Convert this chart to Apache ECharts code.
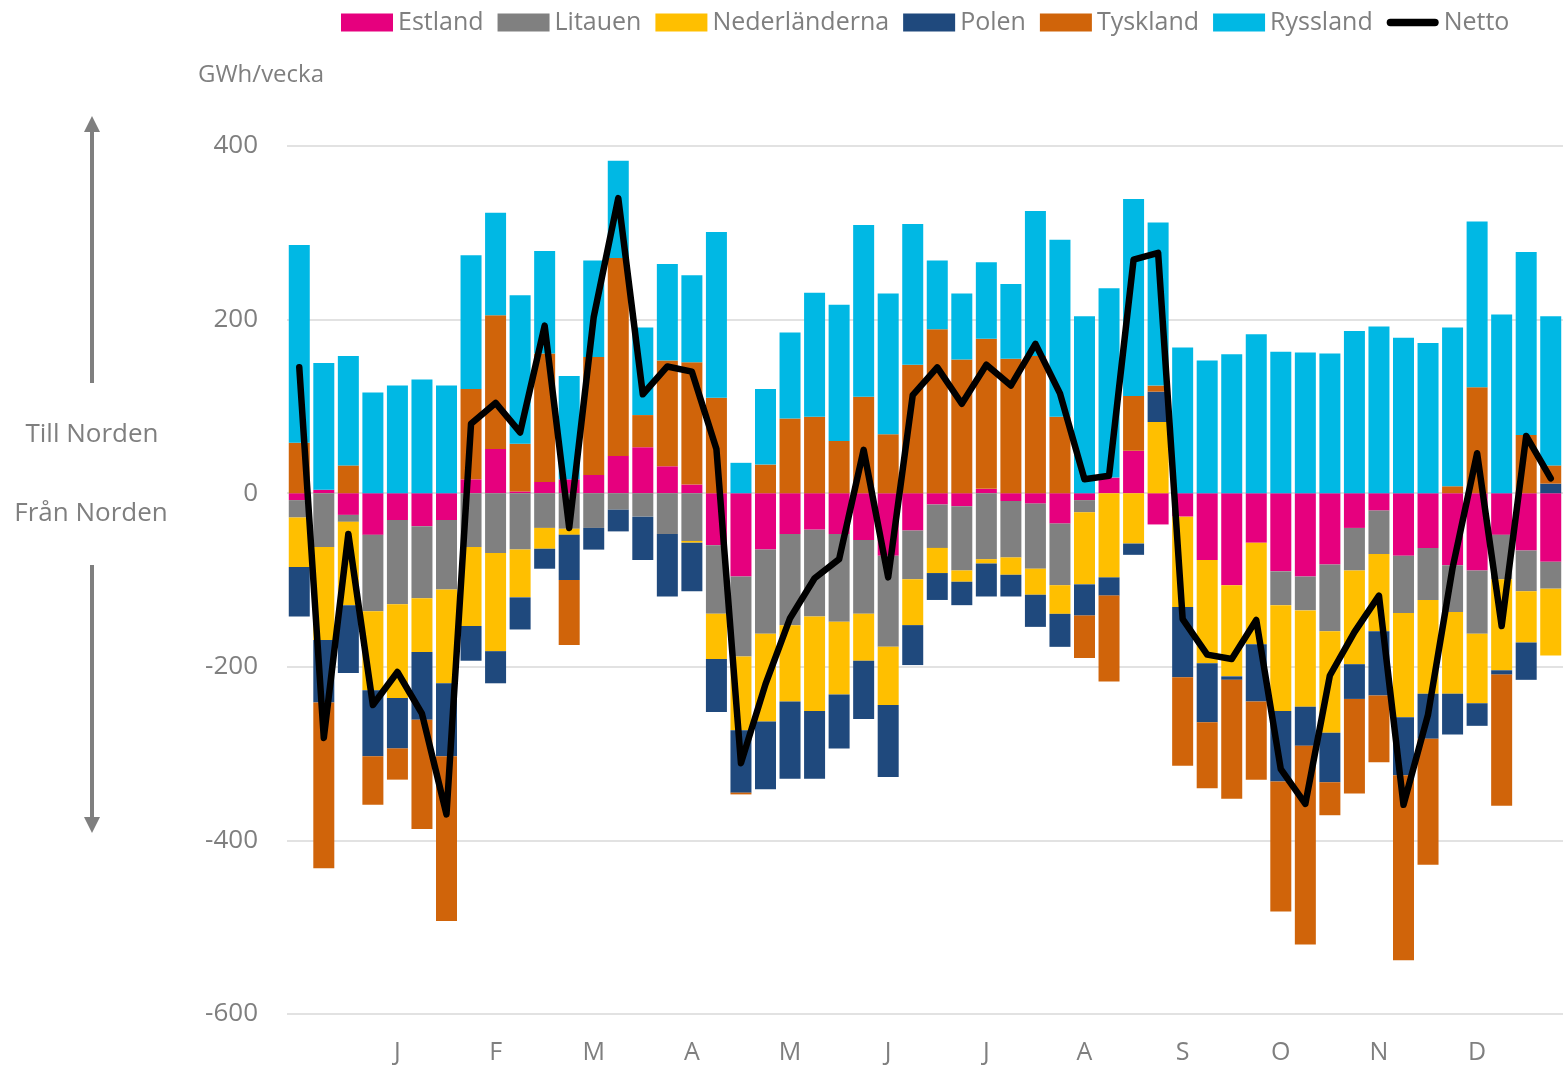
<!DOCTYPE html>
<html>
<head>
<meta charset="utf-8">
<script src="https://cdn.jsdelivr.net/npm/echarts@6/dist/echarts.min.js"></script>
<style>
html,body{margin:0;padding:0;background:#fff;}
#chart{width:1563px;height:1067px;}
</style>
</head>
<body>
<div id="chart"></div>
<script>
const weeks = Array.from({length: 52}, (_, i) => String(i + 1));
const monthLabels = ['J','F','M','A','M','J','J','A','S','O','N','D'];

const estland = [-8,4,-25,-48,-31,-38,-31,16,51,2, 13,16,21,43,53,31,10,-60,-96,-65, -47,-42,-47,-54,-72,-43,-13,-15,5,-9, -12,-35,-8,18,49,-36,-27,-77,-106,-57, -90,-96,-82,-40,-20,-72,-63,-83,-89,-48, -66,-79];
const litauen = [-20,-62,-8,-88,-97,-83,-80,-62,-69,-65, -40,-41,-40,-19,-27,-47,-55,-79,-92,-97, -105,-100,-101,-85,-105,-56,-50,-74,-76,-65, -75,-71,-14,0,0,0,0,0,0,0, -39,-39,-77,-49,-50,-66,-60,-54,-73,-51, -47,-31];
const nederlanderna = [-57,-107,-96,-91,-108,-62,-108,-91,-113,-55, -24,-7,0,0,0,0,-2,-52,-85,-101, -88,-109,-84,-54,-67,-53,-29,-13,-5,-20, -30,-33,-83,-97,-58,82,-104,-119,-105,-117, -122,-111,-117,-108,-89,-120,-108,-94,-80,-105, -59,-77];
const polen = [-57,-72,-78,-76,-58,-78,-84,-40,-37,-37, -23,-52,-25,-25,-50,-72,-56,-61,-72,-78, -89,-78,-62,-67,-83,-46,-31,-27,-38,-25, -37,-38,-36,-21,-13,35,-81,-68,-4,-66, -81,-45,-57,-40,-74,-67,-52,-47,-26,-5, -43,11];
const tyskland = [58,-191,32,-56,-36,-126,-190,104,154,55, 148,-75,136,228,37,122,141,110,-2,33, 86,88,60,111,68,148,189,154,173,155, 158,88,-49,-99,63,7,-102,-76,-137,-90, -150,-229,-38,-109,-77,-213,-145,8,122,-151, 67,21];
const ryssland = [228,146,126,116,124,131,124,154,118,171, 118,119,111,112,101,111,100,191,35,87, 99,143,157,198,162,162,79,76,88,86, 167,204,204,218,227,188,168,153,160,183, 163,162,161,187,192,179,173,183,191,206, 211,172];
const netto = [145,-282,-47,-244,-206,-254,-370,80,104,70, 193,-40,203,340,114,146,140,51,-311,-220, -144,-98,-76,50,-97,113,145,103,148,124, 172,115,16,20,269,277,-145,-186,-191,-146, -318,-358,-210,-160,-118,-359,-255,-86,46,-153, 66,17];

const yTicks = [-600, -400, -200, 0, 200, 400];

const FONT = '"Open Sans", "DejaVu Sans", sans-serif';
const GRAY = '#7f7f7f';

const barSeries = [
  ['Estland', estland, '#e6007e'],
  ['Litauen', litauen, '#808080'],
  ['Nederländerna', nederlanderna, '#ffbf00'],
  ['Polen', polen, '#1f497d'],
  ['Tyskland', tyskland, '#d0640a'],
  ['Ryssland', ryssland, '#00b8e4']
].map(([name, data, color]) => ({
  name, type: 'bar', stack: 'total', data,
  barWidth: 21,
  itemStyle: {color},
  emphasis: {disabled: true}
}));

const chart = echarts.init(document.getElementById('chart'), null, {renderer: 'canvas'});

function arrow(x, yTail, yTip, up) {
  const dir = up ? 1 : -1;
  const base = yTip + dir * 16;
  return [
    {type: 'line', shape: {x1: x, y1: yTail, x2: x, y2: base}, style: {stroke: GRAY, lineWidth: 4}},
    {type: 'polygon', shape: {points: [[x, yTip], [x - 8, base], [x + 8, base]]}, style: {fill: GRAY}}
  ];
}

chart.setOption({
  animation: false,
  textStyle: {fontFamily: FONT},
  grid: {left: 287, right: 0, top: 146, bottom: 53, containLabel: false},
  legend: {
    left: 341, top: 10, padding: 0,
    itemWidth: 52, itemHeight: 18, itemGap: 14,
    textStyle: {fontFamily: FONT, fontSize: 25, color: GRAY},
    data: [
      {name: 'Estland', icon: 'rect'},
      {name: 'Litauen', icon: 'rect'},
      {name: 'Nederländerna', icon: 'rect'},
      {name: 'Polen', icon: 'rect'},
      {name: 'Tyskland', icon: 'rect'},
      {name: 'Ryssland', icon: 'rect'},
      {name: 'Netto', icon: 'path://M4,0 H52 A4,4 0 0 1 52,8 H4 A4,4 0 0 1 4,0 Z'}
    ]
  },
  xAxis: {
    type: 'category', data: weeks, position: 'bottom',
    axisLine: {show: false, onZero: false},
    axisTick: {show: false},
    splitLine: {show: false},
    axisLabel: {
      interval: (i) => i > 0 && i % 4 === 0,
      formatter: (v, i) => monthLabels[i / 4 - 1] || '',
      fontFamily: FONT, fontSize: 25, color: GRAY, margin: 26
    }
  },
  yAxis: {
    type: 'value', min: -600, max: 400, interval: 200,
    axisLine: {show: false}, axisTick: {show: false},
    splitLine: {lineStyle: {color: '#d9d9d9', width: 1.5}},
    axisLabel: {
      fontFamily: FONT, fontSize: 26, color: GRAY, margin: 29,
      formatter: (v) => yTicks.includes(v) ? String(v) : ''
    }
  },
  series: [
    ...barSeries,
    {
      name: 'Netto', type: 'line', data: netto,
      symbol: 'none', showSymbol: false, z: 10,
      itemStyle: {color: '#000'},
      lineStyle: {color: '#000', width: 6.5, cap: 'round', join: 'round'},
      emphasis: {disabled: true}
    }
  ],
  graphic: [
    {type: 'text', left: 198, top: 63, style: {text: 'GWh/vecka', font: '24px ' + FONT, fill: GRAY}},
    {type: 'text', x: 92, y: 435, style: {text: 'Till Norden', font: '26px ' + FONT, fill: GRAY, align: 'center', verticalAlign: 'middle'}},
    {type: 'text', x: 91, y: 514, style: {text: 'Från Norden', font: '26px ' + FONT, fill: GRAY, align: 'center', verticalAlign: 'middle'}},
    ...arrow(92, 383, 116, true),
    ...arrow(92, 565, 833, false)
  ]
});
</script>
</body>
</html>
